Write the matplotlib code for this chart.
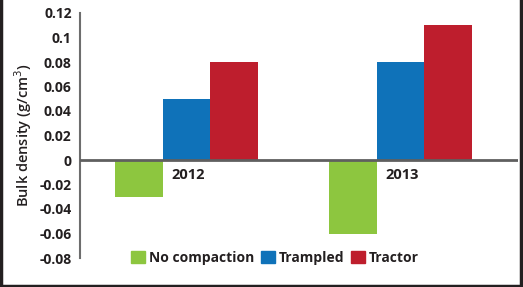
import matplotlib
matplotlib.use("Agg")
import matplotlib.pyplot as plt
import numpy as np
from matplotlib.patches import Patch
from matplotlib.lines import Line2D

years = ["2012", "2013"]
series = ["No compaction", "Trampled", "Tractor"]
no_compaction = [-0.03, -0.06]
trampled = [0.05, 0.08]
tractor = [0.08, 0.11]
colors = ["#8dc63f", "#0f72b9", "#be1e2d"]
yticks = [0.12, 0.1, 0.08, 0.06, 0.04, 0.02, 0, -0.02, -0.04, -0.06, -0.08]

plt.rcParams["font.family"] = ["Open Sans", "DejaVu Sans"]
txt = "#231f20"

fig = plt.figure(figsize=(5.23, 2.87), dpi=100)
ax = fig.add_axes([80 / 523, 1 - 258 / 287, 438 / 523, 245 / 287])

x = np.arange(len(years))
w = 0.223
for i, vals in enumerate([no_compaction, trampled, tractor]):
    ax.bar(x + (i - 1) * w, vals, w, color=colors[i], label=series[i], zorder=2)

ax.axhline(0, color="#5f5f5f", lw=2, zorder=3)
ax.set_xlim(-0.498, 1.55)
ax.set_ylim(-0.08, 0.12)
ax.set_yticks(yticks)
ax.set_yticklabels([f"{t:g}" for t in yticks], fontsize=10, fontweight="bold", color=txt)
ax.tick_params(axis="y", length=0, pad=6)
ax.set_xticks([])
for s in ["top", "right", "bottom"]:
    ax.spines[s].set_visible(False)
ax.spines["left"].set_color("#6d6d6d")
ax.spines["left"].set_linewidth(1.5)

for xi, yr in zip(x, years):
    ax.text(xi + 0.01, -0.0125, yr, ha="center", va="center", fontsize=10.5,
            fontweight="bold", color=txt)

ax.set_ylabel("Bulk density (g/cm$^3$)", fontsize=10.5, fontweight="semibold", color=txt, labelpad=4)

handles = [Patch(color=c) for c in colors]
fig.legend(handles, series, loc="center", bbox_to_anchor=(275 / 523, 1 - 258 / 287), ncol=3,
           frameon=False, handlelength=1.0, handleheight=1.0, handletextpad=0.3,
           columnspacing=0.45, prop={"size": 10, "weight": "bold"}, labelcolor=txt)

# figure frame on left, bottom, right
fig.add_artist(Line2D([1 / 523, 1 / 523], [0, 1], transform=fig.transFigure, color="#231f20", lw=2.5))
fig.add_artist(Line2D([0, 1], [1.2 / 287, 1.2 / 287], transform=fig.transFigure, color="#231f20", lw=2.5))
fig.add_artist(Line2D([520.5 / 523, 520.5 / 523], [0, 1], transform=fig.transFigure, color="#231f20", lw=2.5))

fig.savefig("out.png", dpi=100)
